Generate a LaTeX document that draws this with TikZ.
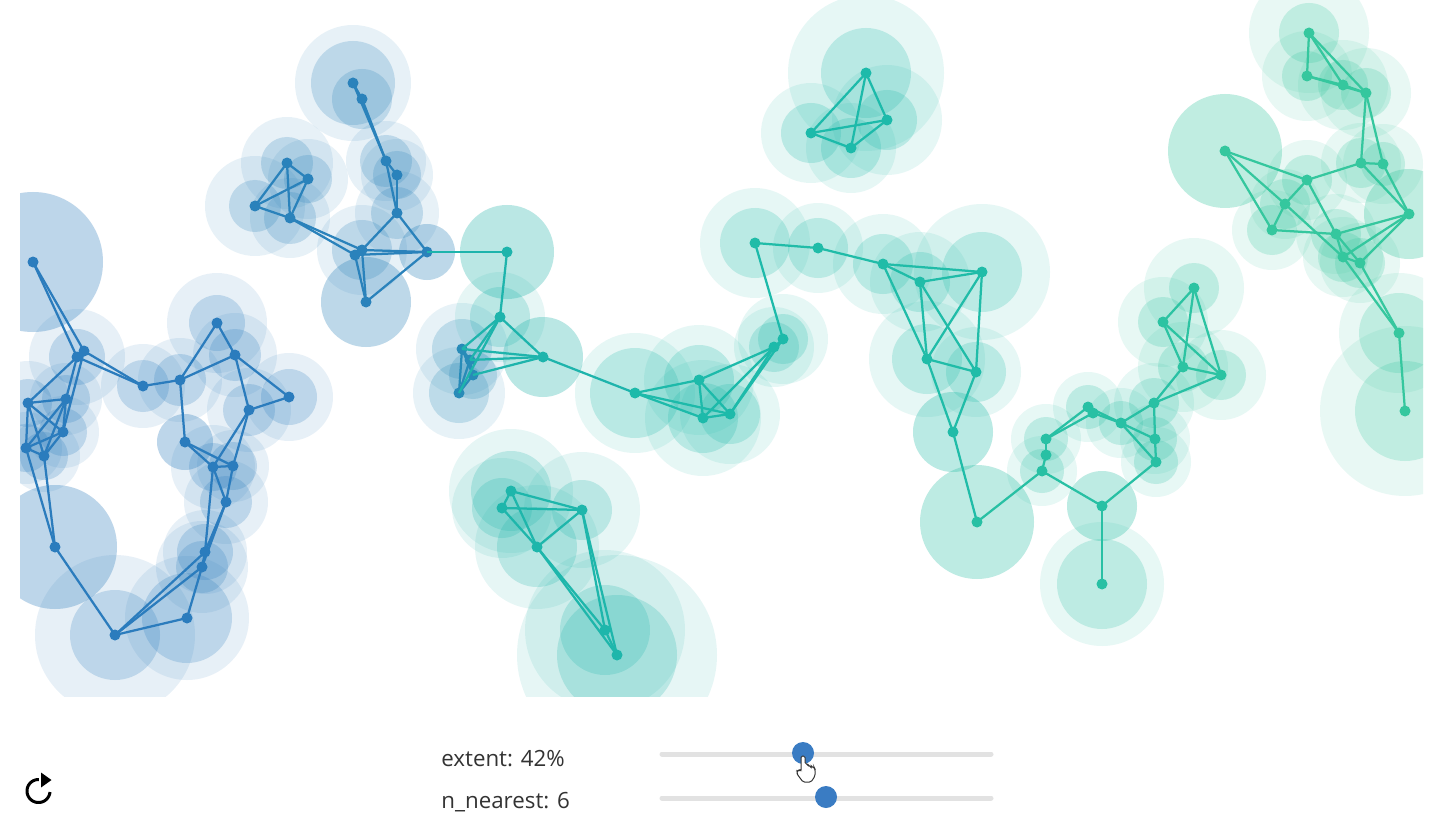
\documentclass[tikz,border=0pt]{standalone}
\usepackage{fontspec}
\setmainfont{Open Sans}
\usepackage{tikz}
\usetikzlibrary{arrows.meta}
\definecolor{BlueC}{HTML}{2B7CBD}
\definecolor{TealC}{HTML}{1DBAAA}
\definecolor{MintC}{HTML}{3CCB9A}
\definecolor{TrackGray}{HTML}{E2E2E2}
\definecolor{ThumbBlue}{HTML}{3A7CC3}
\definecolor{LabelGray}{HTML}{333333}

% colour of a cluster: 0 = blue, 50 = teal, 100 = mint
\newcommand{\clustercol}[1]{%
  \ifnum#1<50\relax
    \pgfmathtruncatemacro{\cmix}{2*#1}\colorlet{clc}{TealC!\cmix!BlueC}%
  \else
    \pgfmathtruncatemacro{\cmix}{2*#1-100}\colorlet{clc}{MintC!\cmix!TealC}%
  \fi}

\begin{document}
\begin{tikzpicture}[
    x=0.2mm, y=-0.2mm,
    halo/.style={fill=clc, opacity=.11},
    core/.style={fill=clc, opacity=.22},
    link/.style={draw=clc, line width=0.45mm},
    dot/.style={fill=clc},
    track/.style={draw=TrackGray, line width=1mm, line cap=round},
    thumb/.style={fill=ThumbBlue},
    label/.style={font=\fontsize{12.7}{15}\selectfont, text=LabelGray, inner sep=0pt, anchor=base west}
  ]
  \fill[white] (0,0) rectangle (1454,824);
  \useasboundingbox (0,0) rectangle (1454,824);

  \begin{scope}
    \clip (20,0) rectangle (1423,696);

    % halos
    \begin{scope}\clustercol{0}
      \foreach \n/\x/\y/\r/\R in {a1/33/262/70/70, a2/77/357/28/48, a2b/84/351/0/0, a3/143/386/26/42,
        a4/180/380/26/42, a5/217/323/28/50, a6/235/355/26/42, a7/289/397/28/44, a8/249/410/26/42,
        a9/185/442/28/28, a10/213/467/24/42, a11/233/466/24/36, a12/226/502/26/42, a13/205/552/28/42,
        a14/202/567/26/46, a15/187/618/45/62, a16/115/635/45/80, a17/55/547/62/62, a18/28/403/24/42,
        a19/66/399/24/36, a20/63/432/24/36, a21/26/448/24/36, a22/44/456/24/36}{
        \coordinate (\n) at (\x,\y);
        \fill[halo] (\n) circle (\R);
        \fill[core] (\n) circle (\r);
      }
    \end{scope}
    \begin{scope}\clustercol{5}
      \foreach \n/\x/\y/\r/\R in {b1/353/83/42/58, b2/362/99/30/0, b3/386/161/26/40, b4/397/175/24/36,
        b5/397/213/26/42, b6/427/252/28/28, b7/362/250/30/45, b8/355/255/0/0, b9/366/302/45/45,
        b10/287/163/26/46, b11/308/179/24/40, b12/255/206/26/50, b13/290/218/26/40}{
        \coordinate (\n) at (\x,\y);
        \fill[halo] (\n) circle (\R);
        \fill[core] (\n) circle (\r);
      }
    \end{scope}
    \begin{scope}\clustercol{12}
      \foreach \n/\x/\y/\r/\R in {c1/462/349/30/46, c2/470/360/0/0, c4/473/375/24/0, c3/459/393/30/46}{
        \coordinate (\n) at (\x,\y);
        \fill[halo] (\n) circle (\R);
        \fill[core] (\n) circle (\r);
      }
    \end{scope}
    \begin{scope}\clustercol{45}
      \foreach \n/\x/\y/\r/\R in {d1/507/252/47/47, d2/500/317/30/45, d3/543/357/40/40}{
        \coordinate (\n) at (\x,\y);
        \fill[halo] (\n) circle (\R);
        \fill[core] (\n) circle (\r);
      }
    \end{scope}
    \begin{scope}\clustercol{47}
      \foreach \n/\x/\y/\r/\R in {f1/511/491/40/62, f2/502/508/30/50, f3/582/510/30/58,
        f4/537/547/40/62, f5/605/630/45/80, f6/617/655/60/100}{
        \coordinate (\n) at (\x,\y);
        \fill[halo] (\n) circle (\R);
        \fill[core] (\n) circle (\r);
      }
    \end{scope}
    \begin{scope}\clustercol{50}
      \foreach \n/\x/\y/\r/\R in {e1/635/393/45/60, e2/699/380/35/55, e3/703/418/35/58,
        e4/730/414/30/50, e5/774/347/25/40, e6/783/339/25/45,
        h1/866/73/45/78, h2/887/120/30/55, h3/811/133/30/50, h4/851/148/30/45}{
        \coordinate (\n) at (\x,\y);
        \fill[halo] (\n) circle (\R);
        \fill[core] (\n) circle (\r);
      }
    \end{scope}
    \begin{scope}\clustercol{55}
      \foreach \n/\x/\y/\r/\R in {g1/755/243/35/55, g2/818/248/30/45, g3/883/264/30/50,
        g4/920/282/30/50, g5/982/272/40/68, g6/927/359/35/58, g7/976/372/30/45, g8/953/432/40/40}{
        \coordinate (\n) at (\x,\y);
        \fill[halo] (\n) circle (\R);
        \fill[core] (\n) circle (\r);
      }
    \end{scope}
    \begin{scope}\clustercol{68}
      \foreach \n/\x/\y/\r/\R in {i1/977/522/57/57, i2/1042/471/22/35, i3/1046/455/0/0,
        i4/1046/439/22/35, i5/1088/407/22/35, i6/1093/413/0/0, i7/1121/423/22/35,
        i8/1154/403/25/40, i9/1155/439/22/35, i10/1156/462/22/35, i11/1102/506/35/35,
        i12/1102/584/45/62}{
        \coordinate (\n) at (\x,\y);
        \fill[halo] (\n) circle (\R);
        \fill[core] (\n) circle (\r);
      }
    \end{scope}
    \begin{scope}\clustercol{75}
      \foreach \n/\x/\y/\r/\R in {j1/1194/288/25/50, j2/1163/322/25/45, j3/1183/367/25/45,
        j4/1221/375/25/45}{
        \coordinate (\n) at (\x,\y);
        \fill[halo] (\n) circle (\R);
        \fill[core] (\n) circle (\r);
      }
    \end{scope}
    \begin{scope}\clustercol{88}
      \foreach \n/\x/\y/\r/\R in {k1/1309/33/30/60, k2/1307/76/25/45, k3/1343/85/25/45,
        k4/1366/93/25/45, k5/1225/151/57/57, k6/1361/163/25/40, k7/1383/164/22/40,
        k8/1307/180/25/40, k9/1285/204/25/35, k10/1272/230/25/40, k11/1409/214/45/45,
        k12/1336/234/25/40, k13/1343/257/25/40, k14/1360/263/25/40, k15/1399/333/40/60,
        k16/1405/411/50/85}{
        \coordinate (\n) at (\x,\y);
        \fill[halo] (\n) circle (\R);
        \fill[core] (\n) circle (\r);
      }
    \end{scope}

    % links and points
    \begin{scope}\clustercol{0}
      \foreach \p/\q in {a1/a2, a1/a2b, a2/a3, a2b/a3, a2/a18, a2/a19, a2b/a20, a18/a19, a18/a20,
        a18/a21, a18/a22, a19/a20, a19/a21, a19/a22, a20/a21, a20/a22, a21/a22, a21/a17, a22/a17,
        a17/a16, a16/a15, a16/a14, a16/a13, a15/a14, a14/a13, a13/a12, a14/a12, a13/a10, a12/a11,
        a12/a10, a10/a11, a9/a10, a9/a11, a9/a4, a4/a3, a4/a5, a4/a6, a5/a6, a6/a8, a6/a7,
        a8/a7, a8/a10, a8/a11}
        \draw[link] (\p) -- (\q);
      \foreach \n in {a1,a2,a2b,a3,a4,a5,a6,a7,a8,a9,a10,a11,a12,a13,a14,a15,a16,a17,a18,a19,a20,a21,a22}
        \fill[dot] (\n) circle (5.5);
    \end{scope}
    \begin{scope}\clustercol{5}
      \foreach \p/\q in {b1/b2, b2/b3, b1/b3, b3/b4, b3/b5, b4/b5, b5/b7, b5/b6, b7/b6, b8/b6,
        b7/b9, b8/b9, b9/b6, b7/b8, b13/b7, b13/b8, b10/b11, b10/b12, b10/b13, b11/b12,
        b11/b13, b12/b13}
        \draw[link] (\p) -- (\q);
      \foreach \n in {b1,b2,b3,b4,b5,b6,b7,b8,b9,b10,b11,b12,b13}
        \fill[dot] (\n) circle (5.5);
    \end{scope}
    \begin{scope}\clustercol{12}
      \foreach \p/\q in {c1/c2, c1/c3, c2/c3, c2/c4, c4/c3, c1/c4}
        \draw[link] (\p) -- (\q);
      \foreach \n in {c1,c2,c3,c4}
        \fill[dot] (\n) circle (5.5);
    \end{scope}
    \begin{scope}\clustercol{45}
      \foreach \p/\q in {b6/d1, d1/d2, d2/c1, d2/c2, d2/c3, d2/d3, d3/c1, d3/c2, d3/c4, d3/e1}
        \draw[link] (\p) -- (\q);
      \foreach \n in {d1,d2,d3}
        \fill[dot] (\n) circle (5.5);
    \end{scope}
    \begin{scope}\clustercol{47}
      \foreach \p/\q in {f1/f2, f1/f3, f2/f3, f1/f4, f2/f4, f3/f4, f4/f6, f4/f5, f3/f5, f3/f6, f5/f6}
        \draw[link] (\p) -- (\q);
      \foreach \n in {f1,f2,f3,f4,f5,f6}
        \fill[dot] (\n) circle (5.5);
    \end{scope}
    \begin{scope}\clustercol{50}
      \foreach \p/\q in {e1/e2, e1/e3, e1/e4, e2/e3, e2/e4, e3/e4, e2/e5, e3/e5, e4/e5, e4/e6,
        e5/e6, e6/g1, h1/h2, h1/h3, h1/h4, h2/h3, h2/h4, h3/h4}
        \draw[link] (\p) -- (\q);
      \foreach \n in {e1,e2,e3,e4,e5,e6,h1,h2,h3,h4}
        \fill[dot] (\n) circle (5.5);
    \end{scope}
    \begin{scope}\clustercol{55}
      \foreach \p/\q in {g1/g2, g2/g3, g3/g4, g3/g5, g4/g5, g3/g6, g4/g6, g4/g7, g5/g6, g5/g7,
        g6/g7, g6/g8, g7/g8, g8/i1}
        \draw[link] (\p) -- (\q);
      \foreach \n in {g1,g2,g3,g4,g5,g6,g7,g8}
        \fill[dot] (\n) circle (5.5);
    \end{scope}
    \begin{scope}\clustercol{68}
      \foreach \p/\q in {i1/i2, i2/i3, i3/i4, i4/i5, i4/i6, i5/i6, i5/i7, i6/i7, i7/i8, i7/i9,
        i7/i10, i8/i9, i9/i10, i2/i11, i11/i10, i11/i12, i8/j3, i8/j4}
        \draw[link] (\p) -- (\q);
      \foreach \n in {i1,i2,i3,i4,i5,i6,i7,i8,i9,i10,i11,i12}
        \fill[dot] (\n) circle (5.5);
    \end{scope}
    \begin{scope}\clustercol{75}
      \foreach \p/\q in {j1/j2, j1/j3, j1/j4, j2/j3, j2/j4, j3/j4}
        \draw[link] (\p) -- (\q);
      \foreach \n in {j1,j2,j3,j4}
        \fill[dot] (\n) circle (5.5);
    \end{scope}
    \begin{scope}\clustercol{88}
      \foreach \p/\q in {k1/k2, k1/k3, k1/k4, k2/k3, k3/k4, k2/k4, k4/k6, k4/k7, k6/k7, k6/k8,
        k7/k11, k6/k11, k5/k8, k5/k9, k5/k10, k8/k9, k9/k10, k8/k12, k9/k13, k10/k12, k12/k11,
        k13/k11, k14/k11, k12/k13, k13/k14, k12/k14, k14/k15, k13/k15, k15/k16}
        \draw[link] (\p) -- (\q);
      \foreach \n in {k1,k2,k3,k4,k5,k6,k7,k8,k9,k10,k11,k12,k13,k14,k15,k16}
        \fill[dot] (\n) circle (5.5);
    \end{scope}
  \end{scope}

  % controls
  \coordinate (reload) at (38.5,791);
  \draw[line width=0.6mm] plot[domain=5:272, samples=40, smooth]
    ({38.5+11.5*cos(\x)}, {791+11.5*sin(\x)});
  \fill (41,772.5) -- (51.5,780) -- (41,787.5) -- cycle;

  \node[label] (extentlbl) at (441,766) {extent: 42\%};
  \node[label] (nnearlbl) at (441,808) {n\_nearest: 6};

  \coordinate (extl) at (662,754);
  \coordinate (extr) at (991,754);
  \coordinate (nnl) at (662,798);
  \coordinate (nnr) at (991,798);
  \draw[track] (extl) -- (extr);
  \draw[track] (nnl) -- (nnr);
  \fill[thumb] (803,753) circle (11);
  \fill[thumb] (826,797) circle (11);

  % pointer
  \draw[fill=white, draw=LabelGray, line width=0.2mm, rounded corners=0.3mm]
    (801,771) -- (801,756) -- (805,756) -- (805,764) -- (808,764) -- (808,766) -- (811,766)
    -- (811,767) -- (814,767) -- (815,769) -- (815,776) -- (811,782) -- (803,782)
    -- (797,774) -- (797,771) -- (799,770) -- cycle;
\end{tikzpicture}
\end{document}
